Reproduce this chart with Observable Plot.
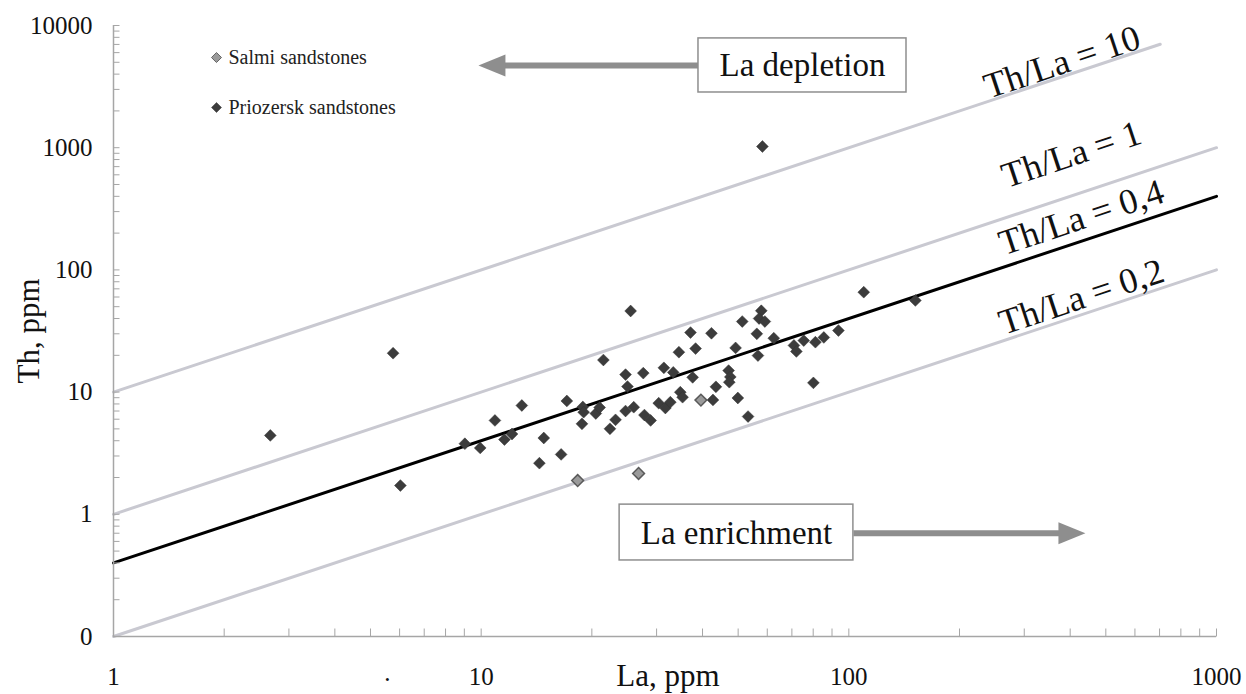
<!DOCTYPE html>
<html><head><meta charset="utf-8">
<script src="https://cdn.jsdelivr.net/npm/d3@7"></script>
<script src="https://cdn.jsdelivr.net/npm/@observablehq/plot@0.6"></script>
<style>html,body{margin:0;padding:0;background:#fff}#chart svg{display:block}</style>
</head><body><div id="chart"></div>
<script>
// ---- data ----
const priozerskLa = [2.67, 5.76, 6.03, 58.2, 109.8, 151.7, 25.5, 21.5, 24.7, 27.6, 25.0, 12.9, 10.9, 9.03, 9.94, 11.57, 12.13, 14.8, 14.4, 16.5, 17.1, 18.9, 19.0, 20.5, 21.0, 18.8, 23.2, 22.4, 24.7, 26.0, 27.8, 28.9, 30.4, 31.7, 32.7, 31.4, 33.3, 34.5, 37.1, 42.3, 38.3, 37.6, 34.8, 35.3, 42.7, 43.5, 49.9, 53.2, 47.1, 47.6, 47.3, 49.2, 51.3, 56.2, 57.8, 57.0, 59.1, 56.6, 62.5, 70.9, 72.0, 75.4, 81.1, 85.5, 93.7, 80.1];
const priozerskTh = [4.42, 20.8, 1.72, 1023, 65.7, 56.2, 46.1, 18.3, 13.9, 14.3, 11.1, 7.77, 5.86, 3.78, 3.49, 4.09, 4.54, 4.21, 2.62, 3.09, 8.46, 7.55, 6.85, 6.68, 7.48, 5.50, 5.93, 5.01, 7.00, 7.52, 6.49, 5.86, 8.12, 7.41, 8.27, 15.8, 14.5, 21.2, 30.7, 30.3, 22.7, 13.2, 9.98, 9.08, 8.62, 11.05, 8.95, 6.31, 15.0, 13.3, 12.05, 23.0, 37.8, 30.0, 46.3, 40.0, 37.8, 19.9, 27.6, 24.1, 21.5, 26.4, 25.6, 28.0, 31.9, 11.9];
const salmiLa = [18.3, 26.8, 39.6];
const salmiTh = [1.89, 2.16, 8.6];

const ratioValues = [10, 1, 0.4, 0.1];
const ratioLaEnd = [703, 1000, 1000, 1000];
const ratioLabels = ["Th/La = 10", "Th/La = 1", "Th/La = 0,4", "Th/La = 0,2"];

const xTickValues = [1, 10, 100, 1000];
const xTickLabels = ["1", "10", "100", "1000"];
const yTickValues = [0.1, 1, 10, 100, 1000, 10000];
const yTickLabels = ["0", "1", "10", "100", "1000", "10000"];

const seriesNames = ["Salmi sandstones", "Priozersk sandstones"];
const xLabel = "La, ppm";
const yLabel = "Th, ppm";
const boxTexts = ["La depletion", "La enrichment"];

// ---- tables built from the arrays ----
const prio = priozerskLa.map((la, i) => ({la, th: priozerskTh[i]}));
const salmi = salmiLa.map((la, i) => ({la, th: salmiTh[i]}));
const ratioRows = ratioValues.flatMap((r, i) => [
  {la: 1, th: r, k: i}, {la: ratioLaEnd[i], th: r * ratioLaEnd[i], k: i}
]);
const minorX = d3.range(0, 3).flatMap(e => d3.range(1, 10).map(m => m * 10 ** e)).concat([1000]);
const minorY = d3.range(-1, 4).flatMap(e => d3.range(1, 10).map(m => +(m * 10 ** e).toPrecision(3))).concat([10000]);

// annotation anchors (in data units)
const ratioLabelPos = [{la: 380, th: 5000}, {la: 403, th: 879}, {la: 429, th: 268}, {la: 429, th: 60}];
const legendPos = [{la: 1.906, th: 5470}, {la: 1.906, th: 2133}];
const boxes = [
  {x1: 39.0, x2: 143.5, y1: 2830, y2: 7840, tx: 74.8, ty: 4710},
  {x1: 23.8, x2: 102.9, y1: 0.419, y2: 1.20, tx: 49.5, ty: 0.70}
];
const arrows = [
  {x1: 39.0, x2: 11.57, tip: 9.83, y: 4710, dir: -1},
  {x1: 102.9, x2: 374, tip: 440, y: 0.70, dir: 1}
];

const serif = "'Liberation Serif', 'Times New Roman', serif";
const diamond = {draw(ctx, size) { const r = Math.sqrt(size / 2); ctx.moveTo(0, -r); ctx.lineTo(r, 0); ctx.lineTo(0, r); ctx.lineTo(-r, 0); ctx.closePath(); }};
const tickRight = {draw(ctx) { ctx.moveTo(0, 0); ctx.lineTo(6, 0); }};
const tickUp = {draw(ctx) { ctx.moveTo(0, 0); ctx.lineTo(0, -8); }};
const headLeft = {draw(ctx) { ctx.moveTo(0, 0); ctx.lineTo(27, -11); ctx.lineTo(27, 11); ctx.closePath(); }};
const headRight = {draw(ctx) { ctx.moveTo(0, 0); ctx.lineTo(-27, -11); ctx.lineTo(-27, 11); ctx.closePath(); }};

const axisGray = "#a6a6a6";
const lineGray = "#c9c9d1";

const chart = Plot.plot({
  width: 1246, height: 694,
  marginLeft: 113, marginRight: 30, marginTop: 25, marginBottom: 58,
  x: {type: "log", domain: [1, 1000], axis: null},
  y: {type: "log", domain: [0.1, 10000], axis: null},
  style: {fontFamily: serif, background: "#fff", color: "#000"},
  marks: [
    // reference lines
    Plot.line(ratioRows.filter(d => d.k !== 2), {x: "la", y: "th", z: "k", stroke: lineGray, strokeWidth: 3}),
    Plot.line(ratioRows.filter(d => d.k === 2), {x: "la", y: "th", stroke: "#000", strokeWidth: 3}),
    Plot.text(ratioLabels, {x: (d, i) => ratioLabelPos[i].la, y: (d, i) => ratioLabelPos[i].th, text: d => d, rotate: -18.4, fontSize: 36, fill: "#111"}),
    // axes lines
    Plot.ruleX([1], {stroke: axisGray, strokeWidth: 1.5}),
    Plot.ruleY([0.1], {stroke: axisGray, strokeWidth: 1.5}),
    Plot.dot(minorY, {x: () => 1, y: d => d, symbol: tickRight, stroke: axisGray, strokeWidth: 1, fill: "none"}),
    Plot.dot(minorX, {x: d => d, y: () => 0.1, symbol: tickUp, stroke: axisGray, strokeWidth: 1, fill: "none"}),
    Plot.text(yTickValues, {x: () => 1, y: d => d, text: (d, i) => yTickLabels[i], textAnchor: "end", dx: -21, fontSize: 25, fill: "#111"}),
    Plot.text(xTickValues, {x: d => d, y: () => 0.1, text: (d, i) => xTickLabels[i], dy: 40, fontSize: 25, fill: "#111"}),
    Plot.text(["."], {x: () => 5.56, y: () => 0.1, text: d => d, dy: 36, fontSize: 25, fill: "#111"}),
    Plot.text([xLabel], {frameAnchor: "bottom", lineAnchor: "middle", textAnchor: "middle", dy: 40, dx: 3, fontSize: 31, fill: "#111"}),
    Plot.text([yLabel], {frameAnchor: "left", textAnchor: "middle", lineAnchor: "middle", rotate: -90, dx: -84, fontSize: 31, fill: "#111"}),
    // arrows and boxes
    Plot.link(arrows, {x1: "x1", x2: "x2", y1: "y", y2: "y", stroke: "#8e8e8e", strokeWidth: 6}),
    Plot.dot(arrows.filter(d => d.dir < 0), {x: "tip", y: "y", symbol: headLeft, fill: "#8e8e8e", stroke: "none"}),
    Plot.dot(arrows.filter(d => d.dir > 0), {x: "tip", y: "y", symbol: headRight, fill: "#8e8e8e", stroke: "none"}),
    Plot.rect(boxes, {x1: "x1", x2: "x2", y1: "y1", y2: "y2", fill: "#fff", stroke: "#8e8e8e", strokeWidth: 1.5}),
    Plot.text(boxes, {x: "tx", y: "ty", text: (d, i) => boxTexts[i], fontSize: 33, fill: "#111"}),
    // legend
    Plot.dot([legendPos[0]], {x: "la", y: "th", symbol: diamond, r: 4, fill: "#9a9a9a", stroke: "#666", strokeWidth: 1}),
    Plot.dot([legendPos[1]], {x: "la", y: "th", symbol: diamond, r: 4, fill: "#3c3c3c", stroke: "#333", strokeWidth: 0.5}),
    Plot.text(legendPos, {x: "la", y: "th", text: (d, i) => seriesNames[i], textAnchor: "start", dx: 12, fontSize: 20, fill: "#222"}),
    // data
    Plot.dot(prio, {x: "la", y: "th", symbol: diamond, r: 4.7, fill: "#3c3c3c", stroke: "#333", strokeWidth: 0.5}),
    Plot.dot(salmi, {x: "la", y: "th", symbol: diamond, r: 4.7, fill: "#9a9a9a", stroke: "#5a5a5a", strokeWidth: 1.5})
  ]
});
document.getElementById("chart").appendChild(chart);
</script>
</body></html>
